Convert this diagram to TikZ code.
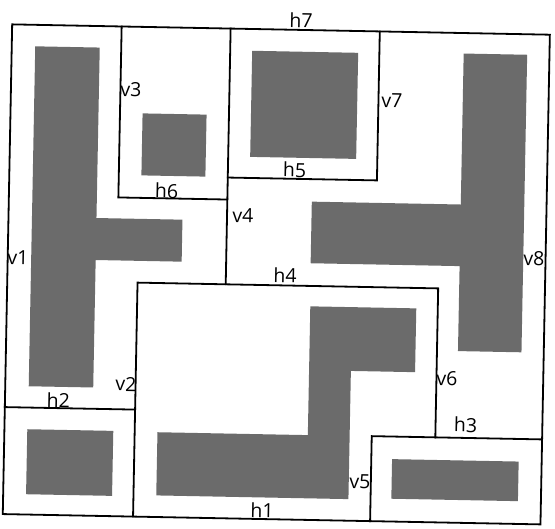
\documentclass[tikz,border=0pt]{standalone}
\usepackage{fontspec}
\setmainfont{Open Sans}
\begin{document}
\begin{tikzpicture}[x=1pt,y=-1pt,
  wall/.style={line width=1.8pt, line cap=rect, line join=miter},
  block/.style={fill=black!58, draw=none},
  lab/.style={inner sep=0pt, transform shape, font=\fontsize{19.5}{20}\selectfont}]
\useasboundingbox (0,0) rectangle (555,529);
\begin{scope}[rotate around={-1.1:(277,270)}]
% shaded modules
\fill[block] (31,51) -- (95.5,51) -- (95.5,221.5) -- (181.5,221.5) -- (181.5,263.5) -- (95.5,263.5) -- (95.5,391) -- (31,391) -- cycle;
\fill[block] (139.6,116) rectangle (203.6,178);
\fill[block] (248,51.3) rectangle (354,157.4);
\fill[block] (459.5,50) -- (523,50) -- (523,347.6) -- (459.5,347.6) -- (459.5,262.6) -- (310.5,262.6) -- (310.5,201) -- (459.5,201) -- cycle;
\fill[block] (160.6,434.5) -- (311,434.5) -- (311,305.7) -- (417,305.7) -- (417,369.5) -- (352.8,369.5) -- (352.8,497.7) -- (160.6,497.7) -- cycle;
\fill[block] (30.4,434) rectangle (116.4,499);
\fill[block] (395.7,456.9) rectangle (522.3,496.5);
% walls
\draw[wall] (7.5,29.5) rectangle (545.3,519.3);
\draw[wall] (117,29.5) -- (117,200.5) -- (226,200.5);
\draw[wall] (226,29.5) -- (226,285.3);
\draw[wall] (226,178.5) -- (375.2,178.5) -- (375.2,29.5);
\draw[wall] (137.8,519.3) -- (137.8,285.3) -- (438.5,285.3) -- (438.5,434.3);
\draw[wall] (7.5,412.3) -- (137.8,412.3);
\draw[wall] (545.3,434.3) -- (374.9,434.3) -- (374.9,519.3);
% labels
\node[lab] (h7) at (296.2,19.5) {h7};
\node[lab] (v3) at (127.5,92.8) {v3};
\node[lab] (h6) at (165,193) {h6};
\node[lab] (v4) at (242,216) {v4};
\node[lab] (h5) at (292.6,169.4) {h5};
\node[lab] (h4) at (285.1,275.3) {h4};
\node[lab] (v7) at (388.8,98.8) {v7};
\node[lab] (v8) at (533.8,254) {v8};
\node[lab] (v1) at (17.8,262.8) {v1};
\node[lab] (v2) at (128.2,386.9) {v2};
\node[lab] (h2) at (60.8,404.2) {h2};
\node[lab] (h1) at (266.6,510.3) {h1};
\node[lab] (v6) at (449.1,375.5) {v6};
\node[lab] (h3) at (468.5,421.1) {h3};
\node[lab] (v5) at (364.1,480.1) {v5};
\end{scope}
\end{tikzpicture}
\end{document}
